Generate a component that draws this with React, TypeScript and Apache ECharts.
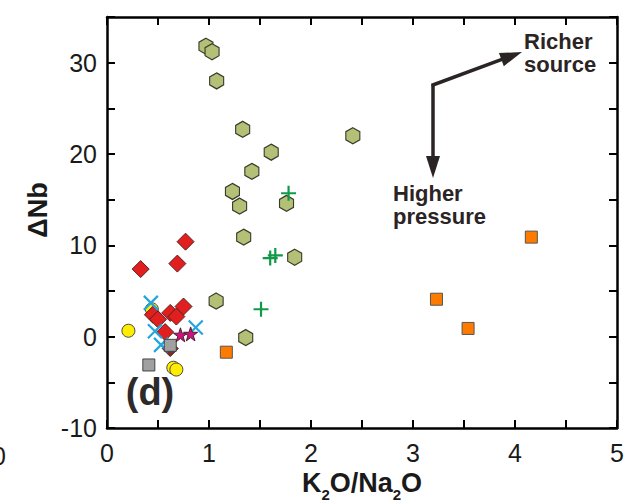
import React, { useEffect, useRef } from "react";
import * as echarts from "echarts";

// ΔNb vs K2O/Na2O, one marker group per sample suite
const hexagonPoints = [
  [0.97, 31.8], [1.03, 31.2], [1.075, 28.0], [1.33, 22.7], [2.41, 22.0],
  [1.61, 20.2], [1.42, 18.1], [1.23, 15.9], [1.3, 14.3], [1.76, 14.6],
  [1.34, 10.9], [1.84, 8.7], [1.07, 3.9], [1.36, -0.1],
];
const plusPoints = [[1.78, 15.7], [1.6, 8.6], [1.65, 8.9], [1.51, 3.0]];
const yellowCirclePoints = [[0.21, 0.65], [0.44, 3.0], [0.65, -3.4], [0.68, -3.6]];
const darkDiamondPoints = [[0.62, -1.3]];
const redDiamondPoints = [
  [0.77, 10.4], [0.33, 7.4], [0.69, 8.0], [0.75, 3.3], [0.62, 2.6],
  [0.68, 2.2], [0.45, 2.4], [0.5, 1.9], [0.57, 0.5],
];
const crossPoints = [[0.43, 3.7], [0.47, 0.6], [0.53, -0.9], [0.87, 1.0]];
const greySquarePoints = [[0.41, -3.1], [0.62, -0.95]];
const starPoints = [[0.72, 0.2], [0.82, 0.3]];
const orangeSquarePoints = [[1.17, -1.7], [4.16, 10.9], [3.23, 4.1], [3.54, 0.9]];

const xTicks = [0, 1, 2, 3, 4, 5];
const yTicks = [-10, 0, 10, 20, 30];

const FONT = "Arial, 'Liberation Sans', Helvetica, sans-serif";
const INK = "#1a1a1a";
const ARROW = "#2b2424";

const HEX = "path://M0,-1 L0.866,-0.5 L0.866,0.5 L0,1 L-0.866,0.5 L-0.866,-0.5 Z";
const STAR =
  "path://M0,-1 L0.2245,-0.309 L0.951,-0.309 L0.363,0.118 L0.588,0.809 L0,0.382 L-0.588,0.809 L-0.363,0.118 L-0.951,-0.309 L-0.2245,-0.309 Z";
const CROSS = "path://M0,0 L10,10 M10,0 L0,10";
const PLUS = "path://M5,0 L5,10 M0,5 L10,5";

const baseAxisX = (position: "top" | "bottom", labels: boolean) => ({
  type: "value",
  position,
  min: 0,
  max: 5,
  interval: 0.5,
  splitLine: { show: false },
  axisLine: { show: true, onZero: false, lineStyle: { color: "#000", width: 2.5 } },
  axisTick: { show: true, inside: true, length: 8, lineStyle: { color: "#000", width: 2 } },
  axisLabel: {
    show: labels,
    margin: 12,
    fontSize: 25,
    fontFamily: FONT,
    color: INK,
    formatter: (v: number) => (xTicks.includes(v) ? String(v) : ""),
  },
});

const baseAxisY = (position: "left" | "right", labels: boolean) => ({
  type: "value",
  position,
  min: -10,
  max: 35,
  interval: 5,
  splitLine: { show: false },
  axisLine: { show: true, onZero: false, lineStyle: { color: "#000", width: 2.5 } },
  axisTick: { show: true, inside: true, length: 8, lineStyle: { color: "#000", width: 2 } },
  axisLabel: {
    show: labels,
    margin: 10,
    fontSize: 25,
    fontFamily: FONT,
    color: INK,
    formatter: (v: number) => (yTicks.includes(v) ? String(v) : ""),
  },
});

function scatter(name: string, data: number[][], symbol: string, size: number | number[], itemStyle: any, z = 2) {
  return {
    type: "scatter",
    name,
    data,
    symbol,
    symbolSize: size,
    itemStyle: { opacity: 1, ...itemStyle },
    z,
    xAxisIndex: 0,
    yAxisIndex: 0,
  };
}

export default function App() {
  const ref = useRef<HTMLDivElement>(null);

  useEffect(() => {
    if (!ref.current) return;
    const chart = echarts.init(ref.current, null, { renderer: "svg" });

    // arrow geometry: common origin, one arrow down, one up-right
    const ox = 433, oy = 85;
    const tip2 = [522, 52];
    const dx = tip2[0] - ox, dy = tip2[1] - oy;
    const len = Math.hypot(dx, dy);
    const ux = dx / len, uy = dy / len;
    const headL = 22, headW = 7;
    const bx = tip2[0] - headL * ux, by = tip2[1] - headL * uy;
    const px = -uy, py = ux;

    chart.setOption({
      animation: false,
      backgroundColor: "#fff",
      grid: { left: 107, right: 14, top: 17, bottom: 75, containLabel: false },
      xAxis: [baseAxisX("bottom", true), baseAxisX("top", false)],
      yAxis: [baseAxisY("left", true), baseAxisY("right", false)],
      series: [
        scatter("hexagon", hexagonPoints, HEX, [14, 16], { color: "#b5c077", borderColor: "#3b3b2c", borderWidth: 1.2 }),
        scatter("plus", plusPoints, PLUS, 15, { color: "transparent", borderColor: "#109a48", borderWidth: 2.2 }),
        scatter("yellow", yellowCirclePoints, "circle", 13, { color: "#ffec00", borderColor: "#4a4a3a", borderWidth: 1 }),
        scatter("darkDiamond", darkDiamondPoints, "diamond", 16, { color: "#7a2e2e", borderColor: "#3a2020", borderWidth: 1 }),
        scatter("redDiamond", redDiamondPoints, "diamond", 17, { color: "#e21f1f", borderColor: "#5a2020", borderWidth: 1 }),
        scatter("cross", crossPoints, CROSS, 14, { color: "transparent", borderColor: "#22a6e0", borderWidth: 2.2 }, 3),
        scatter("greySquare", greySquarePoints, "rect", 12, { color: "#a0a0a0", borderColor: "#444", borderWidth: 1 }, 4),
        scatter("star", starPoints, STAR, 14, { color: "#d0127c", borderColor: "#4a2030", borderWidth: 1 }, 4),
        scatter("orange", orangeSquarePoints, "rect", 12, { color: "#ff7b00", borderColor: "#555", borderWidth: 1 }),
      ],
      graphic: [
        // y axis title
        {
          type: "text",
          x: 38,
          y: 210,
          rotation: Math.PI / 2,
          style: { text: "ΔNb", font: `bold 27px ${FONT}`, fill: INK, align: "center", verticalAlign: "middle" },
        },
        // x axis title with subscripts
        {
          type: "text",
          x: 362,
          y: 483,
          style: {
            text: "{b|K}{s|2}{b|O/Na}{s|2}{b|O}",
            align: "center",
            verticalAlign: "middle",
            fill: INK,
            rich: {
              b: { fontSize: 27, fontWeight: "bold", fontFamily: FONT, fill: INK, lineHeight: 38, verticalAlign: "middle" },
              s: { fontSize: 15, fontWeight: "bold", fontFamily: FONT, fill: INK, lineHeight: 12, verticalAlign: "bottom" },
            },
          },
        },
        // neighbouring panel's axis label at the left edge
        {
          type: "text",
          x: -1,
          y: 456,
          style: { text: "0", font: `25px ${FONT}`, fill: INK, align: "center", verticalAlign: "middle" },
        },
        // panel tag
        {
          type: "text",
          x: 150,
          y: 392,
          style: { text: "(d)", font: `bold 38px ${FONT}`, fill: "#2e2a2a", align: "center", verticalAlign: "middle" },
        },
        // arrows
        { type: "line", shape: { x1: ox, y1: oy, x2: ox, y2: 160 }, style: { stroke: ARROW, lineWidth: 3.5 } },
        { type: "polygon", shape: { points: [[ox - 7, 156], [ox + 7, 156], [ox, 178]] }, style: { fill: ARROW } },
        { type: "line", shape: { x1: ox - 1.5, y1: oy + 0.5, x2: bx + 2 * ux, y2: by + 2 * uy }, style: { stroke: ARROW, lineWidth: 3.5 } },
        {
          type: "polygon",
          shape: { points: [[bx + headW * px, by + headW * py], [bx - headW * px, by - headW * py], tip2] },
          style: { fill: ARROW },
        },
        // annotations
        { type: "text", x: 524, y: 41, style: { text: "Richer", font: `bold 22px ${FONT}`, fill: ARROW, align: "left", verticalAlign: "middle" } },
        { type: "text", x: 524, y: 64, style: { text: "source", font: `bold 22px ${FONT}`, fill: ARROW, align: "left", verticalAlign: "middle" } },
        { type: "text", x: 393, y: 193, style: { text: "Higher", font: `bold 22px ${FONT}`, fill: ARROW, align: "left", verticalAlign: "middle" } },
        { type: "text", x: 393, y: 216, style: { text: "pressure", font: `bold 22px ${FONT}`, fill: ARROW, align: "left", verticalAlign: "middle" } },
      ],
    });

    return () => chart.dispose();
  }, []);

  return (
    <div
      ref={ref}
      style={{ position: "fixed", left: 0, top: 0, width: 631, height: 503, background: "#fff" }}
    />
  );
}
